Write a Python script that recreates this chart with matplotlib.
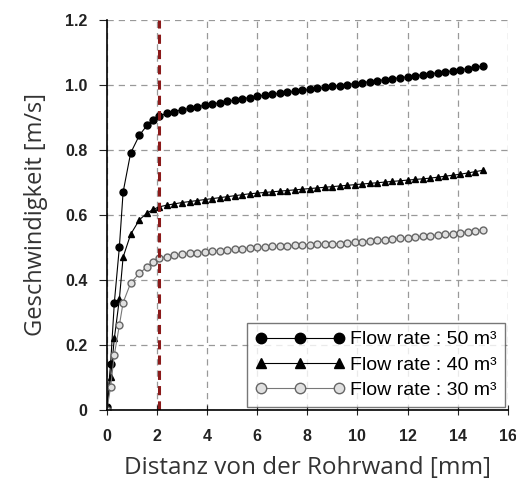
import matplotlib
matplotlib.use("Agg")
import matplotlib.pyplot as plt

# distance from pipe wall [mm]
dist = [0, 0.15, 0.3, 0.5, 0.65, 0.95, 1.3, 1.6, 1.85,
        2.1, 2.4, 2.7, 3.0, 3.3, 3.6, 3.9, 4.2, 4.5, 4.8,
        5.1, 5.4, 5.7, 6.0, 6.3, 6.6, 6.9, 7.2, 7.5, 7.8,
        8.1, 8.4, 8.7, 9.0, 9.3, 9.6, 9.9, 10.2, 10.5, 10.8,
        11.1, 11.4, 11.7, 12.0, 12.3, 12.6, 12.9, 13.2, 13.5, 13.8,
        14.1, 14.4, 14.7, 15.0]

v50 = [0.01, 0.14, 0.33, 0.50, 0.67, 0.79, 0.845, 0.875, 0.893,
       .905, .912, .918, .923, .928, .933, .937, .941, .945, .949,
       .953, .957, .961, .965, .968, .971, .974, .977, .980, .983,
       .986, .989, .992, .995, .998, 1.001, 1.004, 1.007, 1.010, 1.013,
       1.016, 1.019, 1.022, 1.025, 1.028, 1.031, 1.034, 1.037, 1.040, 1.043,
       1.046, 1.050, 1.054, 1.058]

v40 = [0.0, 0.10, 0.22, 0.34, 0.47, 0.54, 0.585, 0.605, 0.617,
       .625, .630, .634, .638, .641, .644, .647, .650, .653, .656,
       .659, .662, .665, .667, .669, .671, .673, .675, .677, .679,
       .681, .683, .685, .687, .689, .691, .693, .695, .697, .699,
       .701, .703, .705, .707, .709, .711, .713, .716, .719, .722,
       .725, .729, .733, .737]

v30 = [0.0, 0.07, 0.17, 0.26, 0.33, 0.39, 0.42, 0.44, 0.455,
       .467, .472, .476, .479, .482, .484, .486, .488, .490, .492,
       .494, .496, .498, .500, .502, .503, .504, .505, .506, .507,
       .508, .509, .510, .511, .512, .514, .516, .518, .520, .522,
       .524, .526, .528, .530, .532, .534, .536, .538, .540, .542,
       .545, .548, .551, .554]

labels = ["Flow rate : 50 m\u00b3", "Flow rate : 40 m\u00b3", "Flow rate : 30 m\u00b3"]
boundary = 2.1

plt.rcParams['font.family'] = ['Liberation Sans', 'DejaVu Sans']

fig = plt.figure(figsize=(5.16, 4.84), dpi=100)
ax = fig.add_axes([0.207, 0.153, 0.777, 0.806])

ax.plot(dist, v50, '-o', color='black', lw=0.8, ms=5, label=labels[0])
ax.plot(dist, v40, '-^', color='black', lw=0.8, ms=4.5, label=labels[1])
ax.plot(dist, v30, '-o', color='#777777', mfc='#e0e0e0', mec='#666666',
        lw=0.8, ms=5, label=labels[2])

ax.axvline(boundary, color='#8b1a1a', lw=2.2, ls=(0, (3, 2)))

ax.set_xlim(0, 16)
ax.set_ylim(0, 1.2)
ax.set_xticks(range(0, 17, 2))
ax.set_yticks([0, 0.2, 0.4, 0.6, 0.8, 1.0, 1.2])
ax.set_yticklabels(['0', '0.2', '0.4', '0.6', '0.8', '1.0', '1.2'])
ax.grid(True, ls=(0, (5, 4)), color='#999999', lw=0.9)
ax.set_axisbelow(True)
for s in ['top', 'right']:
    ax.spines[s].set_visible(False)
ax.spines['left'].set_linewidth(1.2)
ax.spines['bottom'].set_linewidth(1.2)
ax.tick_params(axis='x', direction='inout', length=7, pad=10)
ax.tick_params(axis='y', direction='out', length=6, pad=8)
ax.tick_params(labelsize=11.5, colors='#222222')
for t in ax.get_xticklabels() + ax.get_yticklabels():
    t.set_fontweight('bold')

ax.set_xlabel("Distanz von der Rohrwand [mm]", fontsize=17.5, color='#333333',
              family=['Open Sans', 'DejaVu Sans'], labelpad=9)
ax.set_ylabel("Geschwindigkeit [m/s]", fontsize=17, color='#333333',
              family=['Open Sans', 'DejaVu Sans'], labelpad=12)

leg = ax.legend(loc='lower right', numpoints=3, fontsize=14, frameon=True,
                fancybox=False, edgecolor='#555555', handlelength=4.6,
                handletextpad=0.3, borderaxespad=0.15, labelspacing=0.4,
                markerscale=1.5, borderpad=0.4)
leg.get_frame().set_linewidth(1.0)

fig.savefig("out.png", dpi=100)
